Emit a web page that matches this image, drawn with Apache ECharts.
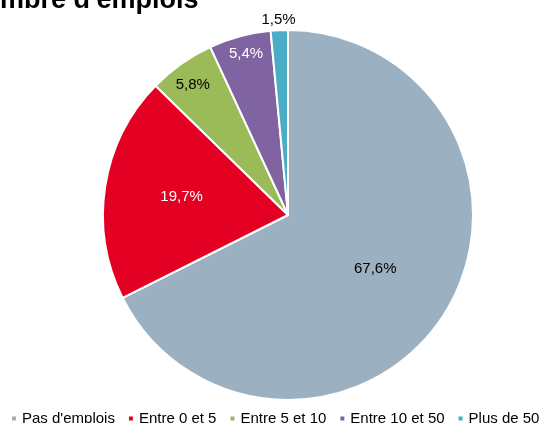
<!DOCTYPE html>
<html>
<head>
<meta charset="utf-8">
<script src="https://cdn.jsdelivr.net/npm/echarts@6/dist/echarts.min.js"></script>
<style>
  html, body { margin: 0; padding: 0; background: #fff; }
  #chart { width: 545px; height: 423px; }
</style>
</head>
<body>
<div id="chart"></div>
<script>
// data
const categories = ["Pas d'emplois", 'Entre 0 et 5', 'Entre 5 et 10', 'Entre 10 et 50', 'Plus de 50'];
const values = [67.6, 19.7, 5.8, 5.4, 1.5];
const colors = ['#9BB0C1', '#E30022', '#9BBB59', '#8064A2', '#4BACC6'];

// label look per slice (colour + nudge from the default inside spot)
const labelStyles = [
    { color: '#000', offset: [6, 4] },
    { color: '#fff', offset: [-12, -3] },
    { color: '#000', offset: [-40, -52] },
    { color: '#fff', offset: [-17, -69] },
    { color: '#000', offset: [-5, -100] }
];

const font = '"Liberation Sans", Arial, Helvetica, sans-serif';

const chart = echarts.init(document.getElementById('chart'), null, { renderer: 'canvas' });

const pieData = categories.map((name, i) => ({
    name: name,
    value: values[i],
    itemStyle: { color: colors[i] },
    label: {
        color: labelStyles[i].color,
        offset: labelStyles[i].offset
    }
}));

chart.setOption({
    animation: false,
    backgroundColor: '#fff',
    title: {
        text: "Nombre d'emplois",
        left: -41,
        top: -18,
        textStyle: { fontFamily: font, fontSize: 27, fontWeight: 'bold', color: '#000' }
    },
    legend: {
        data: categories,
        left: 5,
        top: 406,
        width: 700,
        icon: 'rect',
        itemWidth: 6,
        itemHeight: 6,
        itemGap: 12,
        textStyle: { fontFamily: font, fontSize: 15, color: '#000' }
    },
    series: [{
        type: 'pie',
        center: [288, 215],
        radius: 185,
        startAngle: 90,
        clockwise: true,
        silent: true,
        itemStyle: { borderColor: '#fff', borderWidth: 2 },
        label: {
            show: true,
            position: 'inside',
            fontFamily: font,
            fontSize: 15,
            formatter: p => p.value.toFixed(1).replace('.', ',') + '%'
        },
        labelLine: { show: false },
        data: pieData
    }]
});
</script>
</body>
</html>
